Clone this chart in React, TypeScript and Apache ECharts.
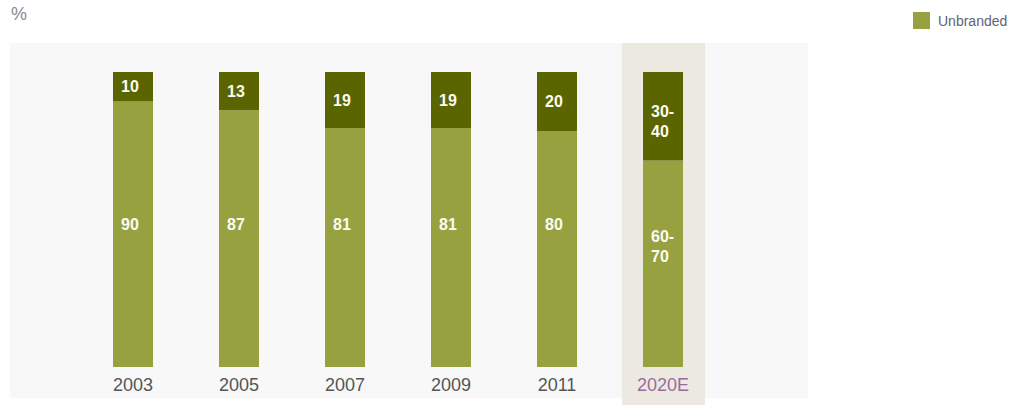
import React, { useEffect, useRef } from "react";
import * as echarts from "echarts";

const categories = ["2003", "2005", "2007", "2009", "2011", "2020E"];
const unbrandedValues = [90, 87, 81, 81, 80, 70];
const brandedValues = [10, 13, 19, 19, 20, 30];
const unbrandedLabels = ["90", "87", "81", "81", "80", "60-\n70"];
const brandedLabels = ["10", "13", "19", "19", "20", "30-\n40"];
const highlightCategory = "2020E";
const unitLabel = "%";
const legendItems = ["Unbranded"];

const LIGHT = "#97a13f";
const DARK = "#5b6500";
const TEXT_GRAY = "#555555";
const PURPLE = "#9b6b9f";

export default function App() {
  const ref = useRef<HTMLDivElement>(null);

  useEffect(() => {
    if (!ref.current) return;
    const chart = echarts.init(ref.current, null, { renderer: "svg" });
    const font = "'Liberation Sans', Arial, Helvetica, sans-serif";
    const valueLabelBase = {
      show: true,
      color: "#fbfbf2",
      fontWeight: "bold" as const,
      fontSize: 16,
      lineHeight: 20,
      fontFamily: font,
    };
    chart.setOption({
      animation: false,
      backgroundColor: "#ffffff",
      legend: {
        data: legendItems,
        left: 908,
        top: 7,
        itemWidth: 17,
        itemHeight: 17,
        icon: "rect",
        selectedMode: false,
        textStyle: {
          color: "#626272",
          fontSize: 14,
          fontFamily: font,
          padding: [0, 0, 0, 3],
        },
      },
      grid: { left: 80, right: 293, top: 72, bottom: 38 },
      xAxis: {
        type: "category",
        data: categories,
        axisLine: { show: false },
        axisTick: { show: false },
        axisLabel: {
          margin: 9,
          fontSize: 18,
          fontFamily: font,
          formatter: (v: string) => (v === highlightCategory ? `{h|${v}}` : `{n|${v}}`),
          rich: {
            n: { color: TEXT_GRAY, fontSize: 18, fontFamily: font },
            h: { color: PURPLE, fontSize: 18, fontFamily: font },
          },
        },
      },
      yAxis: {
        type: "value",
        min: 0,
        max: 100,
        show: false,
        splitLine: { show: false },
      },
      series: [
        {
          name: "Unbranded",
          type: "bar",
          stack: "total",
          barWidth: 40,
          z: 3,
          itemStyle: { color: LIGHT },
          data: unbrandedValues.map((v, i) => ({
            value: v,
            label: {
              ...valueLabelBase,
              position: "insideBottom",
              distance: categories[i] === highlightCategory ? 101 : 133,
              formatter: () => unbrandedLabels[i],
              align: "left",
              offset: [-12, 0],
            },
          })),
        },
        {
          name: "Branded",
          type: "bar",
          stack: "total",
          barWidth: 40,
          z: 3,
          itemStyle: { color: DARK },
          data: brandedValues.map((v, i) => ({
            value: v,
            label: {
              ...valueLabelBase,
              position: "inside",
              formatter: () => brandedLabels[i],
              align: "left",
              offset: [-12, categories[i] === highlightCategory ? 5 : 0],
            },
          })),
        },
      ],
    });

    const cx = chart.convertToPixel({ xAxisIndex: 0 }, highlightCategory) as number;
    chart.setOption({
      graphic: [
        {
          type: "rect",
          z: -10,
          silent: true,
          shape: { x: 10, y: 43, width: 798, height: 355 },
          style: { fill: "#f8f8f8" },
        },
        {
          type: "rect",
          z: -9,
          silent: true,
          shape: { x: cx - 41, y: 43, width: 83, height: 362 },
          style: { fill: "#ece9e1" },
        },
        {
          type: "text",
          z: 10,
          left: 11,
          top: 5,
          style: { text: unitLabel, fill: "#8a8a8a", fontSize: 18, fontFamily: font },
        },
      ],
    });

    return () => chart.dispose();
  }, []);

  return (
    <div
      ref={ref}
      style={{ position: "absolute", left: 0, top: 0, width: 1009, height: 405 }}
    />
  );
}
